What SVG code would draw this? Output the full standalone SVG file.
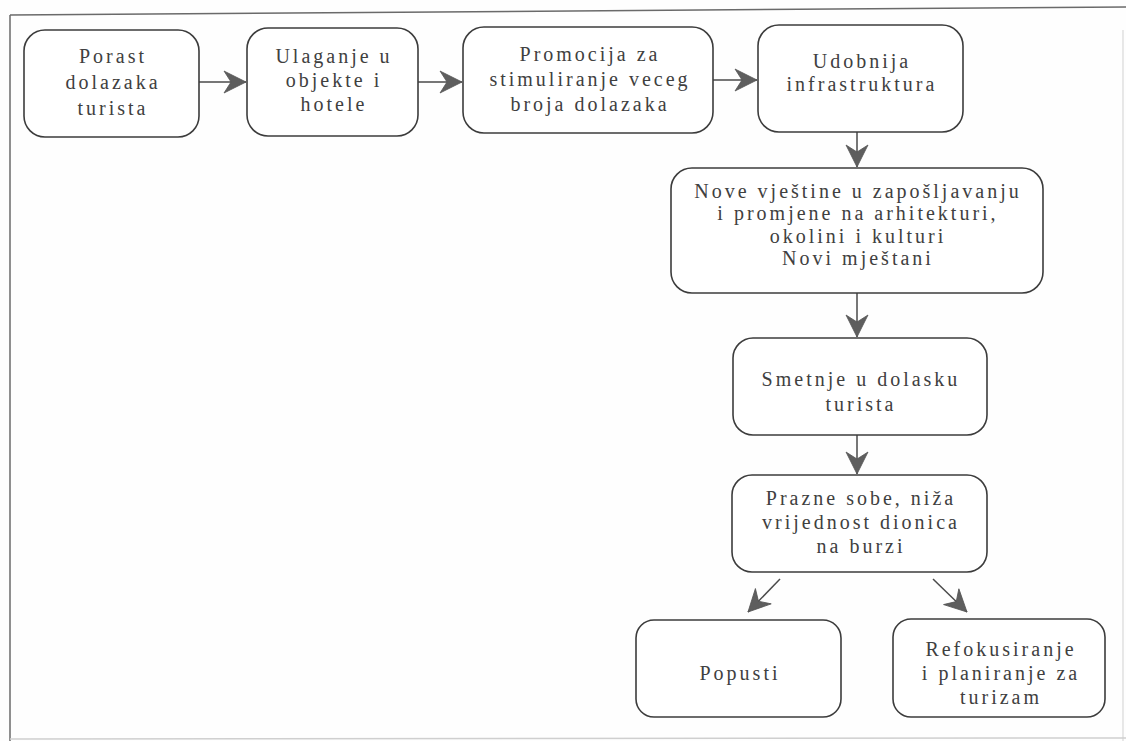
<svg xmlns="http://www.w3.org/2000/svg" width="1126" height="741" viewBox="0 0 1126 741">
<style>
.box{fill:#fff;stroke:#3c3c3c;stroke-width:1.6}
.t{font-family:"Liberation Serif","Times New Roman",serif;font-size:20px;letter-spacing:3px;fill:#404040;text-anchor:middle}
.c{fill:none;stroke:#4a4a4a;stroke-width:1.5}
.frame{fill:none;stroke:#6a6a6a;stroke-width:1.5}
</style>
<defs>
<marker id="ah" viewBox="-24 -12 26 24" refX="0" refY="0" markerWidth="26" markerHeight="24" markerUnits="userSpaceOnUse" orient="auto">
<path d="M0,0 L-22,-11 L-15,0 L-22,11 Z" fill="#5e5e5e" stroke="#555" stroke-width="0.8" stroke-linejoin="round"/>
</marker>
</defs>
<rect width="1126" height="741" fill="#fefefe"/>
<g id="frame">
<path class="frame" d="M10,15 L1126,7"/>
<path class="frame" d="M10,15 L10,741"/>
<path d="M1123,30 L1123,741" fill="none" stroke="#d8d8d8" stroke-width="1.2"/>
<path d="M10,739 L1126,738" fill="none" stroke="#cfcfcf" stroke-width="1.5"/>
</g>
<g id="connectors">
<path class="c" d="M199,82 L246,82" marker-end="url(#ah)"/>
<path class="c" d="M418,82 L462,82" marker-end="url(#ah)"/>
<path class="c" d="M713,80 L757,80" marker-end="url(#ah)"/>
<path class="c" d="M857,132 L857,167" marker-end="url(#ah)"/>
<path class="c" d="M857,293 L857,337" marker-end="url(#ah)"/>
<path class="c" d="M857,435 L857,474" marker-end="url(#ah)"/>
<path class="c" d="M780,579 L748,612" marker-end="url(#ah)"/>
<path class="c" d="M933,579 L967,612" marker-end="url(#ah)"/>
</g>
<g id="n1">
<rect class="box" x="24" y="30" width="175" height="107" rx="21"/>
<text class="t"><tspan x="113" y="63">Porast</tspan><tspan x="113" y="89">dolazaka</tspan><tspan x="113" y="115">turista</tspan></text>
</g>
<g id="n2">
<rect class="box" x="247" y="28" width="171" height="108" rx="21"/>
<text class="t"><tspan x="334" y="63">Ulaganje u</tspan><tspan x="334" y="87">objekte i</tspan><tspan x="334" y="111">hotele</tspan></text>
</g>
<g id="n3">
<rect class="box" x="463" y="27" width="250" height="106" rx="21"/>
<text class="t"><tspan x="590" y="61">Promocija za</tspan><tspan x="590" y="86">stimuliranje veceg</tspan><tspan x="590" y="111">broja dolazaka</tspan></text>
</g>
<g id="n4">
<rect class="box" x="758" y="25" width="205" height="107" rx="21"/>
<text class="t"><tspan x="862" y="68">Udobnija</tspan><tspan x="862" y="91">infrastruktura</tspan></text>
</g>
<g id="n5">
<rect class="box" x="671" y="168" width="372" height="125" rx="21"/>
<text class="t"><tspan x="858" y="198">Nove vještine u zapošljavanju</tspan><tspan x="858" y="220">i promjene na arhitekturi,</tspan><tspan x="858" y="243">okolini i kulturi</tspan><tspan x="858" y="265">Novi mještani</tspan></text>
</g>
<g id="n6">
<rect class="box" x="733" y="338" width="254" height="97" rx="20"/>
<text class="t"><tspan x="861" y="386">Smetnje u dolasku</tspan><tspan x="861" y="411">turista</tspan></text>
</g>
<g id="n7">
<rect class="box" x="732" y="475" width="255" height="97" rx="20"/>
<text class="t"><tspan x="861" y="505">Prazne sobe, niža</tspan><tspan x="861" y="529">vrijednost dionica</tspan><tspan x="861" y="553">na burzi</tspan></text>
</g>
<g id="n8">
<rect class="box" x="636" y="620" width="205" height="97" rx="18"/>
<text class="t"><tspan x="740" y="680">Popusti</tspan></text>
</g>
<g id="n9">
<rect class="box" x="893" y="619" width="212" height="98" rx="18"/>
<text class="t"><tspan x="1001" y="656">Refokusiranje</tspan><tspan x="1001" y="680">i planiranje za</tspan><tspan x="1001" y="704">turizam</tspan></text>
</g>
</svg>
